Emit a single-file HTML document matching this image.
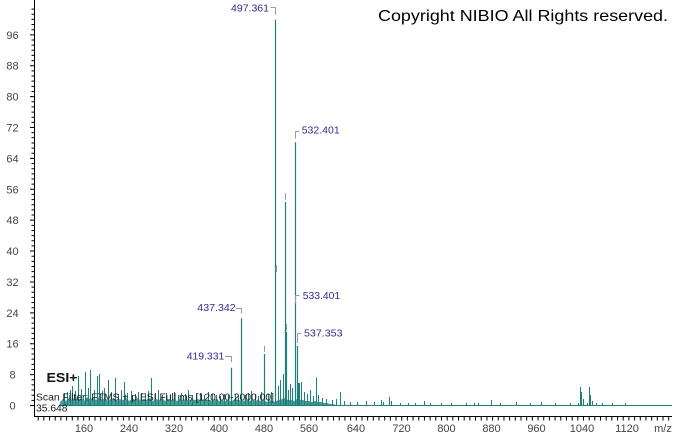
<!DOCTYPE html>
<html><head><meta charset="utf-8"><style>
html,body{margin:0;padding:0;background:#fff;}
svg{display:block;}
text{font-family:"Liberation Sans",Arial,sans-serif;}
</style></head><body>
<svg width="674" height="434" viewBox="0 0 674 434" xmlns="http://www.w3.org/2000/svg">
<rect width="674" height="434" fill="#fff"/>
<!-- axes -->
<line x1="34.5" y1="0" x2="34.5" y2="417" stroke="#000" stroke-width="1"/>
<line x1="34" y1="416.5" x2="672" y2="416.5" stroke="#000" stroke-width="1"/>
<!-- y minor ticks -->
<line x1="33" y1="406" x2="33" y2="6" stroke="#000" stroke-width="3" stroke-dasharray="1 4.148"/>
<!-- y major ticks -->
<line x1="31" y1="406" x2="31" y2="20" stroke="#000" stroke-width="2" stroke-dasharray="1 29.888"/>
<!-- x ticks -->
<line x1="37.7" y1="418.5" x2="672" y2="418.5" stroke="#000" stroke-width="4" stroke-dasharray="1 4.68"/>
<!-- y labels -->
<g font-size="11" fill="#444" text-anchor="middle">
<text x="12.5" y="409.5">0</text>
<text x="12.5" y="378.6">8</text>
<text x="12.5" y="347.7">16</text>
<text x="12.5" y="316.8">24</text>
<text x="12.5" y="285.9">32</text>
<text x="12.5" y="255.1">40</text>
<text x="12.5" y="224.2">48</text>
<text x="12.5" y="193.3">56</text>
<text x="12.5" y="162.4">64</text>
<text x="12.5" y="131.5">72</text>
<text x="12.5" y="100.6">80</text>
<text x="12.5" y="69.7">88</text>
<text x="12.5" y="38.8">96</text>
</g>
<!-- x labels -->
<g font-size="11" fill="#444" text-anchor="middle">
<text x="84" y="432">160</text>
<text x="129" y="432">240</text>
<text x="174" y="432">320</text>
<text x="219" y="432">400</text>
<text x="264" y="432">480</text>
<text x="309" y="432">560</text>
<text x="356" y="432">640</text>
<text x="401.5" y="432">720</text>
<text x="446.5" y="432">800</text>
<text x="491.5" y="432">880</text>
<text x="536.5" y="432">960</text>
<text x="582" y="432">1040</text>
<text x="627" y="432">1120</text>
<text x="663" y="432">m/z</text>
</g>
<!-- baseline -->
<line x1="60" y1="405.5" x2="672" y2="405.5" stroke="#1a817b" stroke-width="1"/>
<!-- noise band -->
<polygon fill="#1a817b" fill-opacity="0.8" points="60,405.5 60,402 63,399 66,401 69,398 72,400 75,397 78,400 81,398 84,401 87,397 90,399 93,398 96,400 99,397 102,400 105,398 108,401 111,399 114,398 117,401 120,399 123,400 126,398 129,401 132,399 135,400 138,398 141,401 144,399 147,400 150,398 153,401 156,399 159,400 162,398 165,401 168,399 171,400 174,399 177,401 180,399 183,400 186,399 189,401 192,399 195,400 198,399 201,401 204,399 207,401 210,400 213,401 216,399 219,401 222,400 225,401 228,400 231,401 234,400 237,401 240,400 243,401 246,400 249,401 252,400 255,401 258,400 261,401 264,400 267,402 270,400 273,402 276,401 279,400 282,399 285,398 288,400 291,400 294,401 297,399 300,400 303,400 306,401 309,401 312,402 315,401 318,402 321,402 324,403 327,403 330,404 335,404.5 335,405.5"/>
<!-- spikes -->
<path stroke="#1a817b" stroke-width="1" fill="none" d="
M64.5 405V393 M67.5 405V392 M70.5 405V390 M72.5 405V386 M75.5 405V391 M78.5 405V376 M81.5 405V389 M85.5 405V372 M88.5 405V388 M90.5 405V370 M94.5 405V390 M97.5 405V376 M99.5 405V374 M102.5 405V391 M104.5 405V388 M108.5 405V380 M111.5 405V392 M115.5 405V378 M118.5 405V394 M121.5 405V390 M124.5 405V382 M127.5 405V393 M131.5 405V391 M135.5 405V394 M138.5 405V392 M141.5 405V393 M145.5 405V394 M148.5 405V391 M151.5 405V378 M155.5 405V393 M158.5 405V390 M162.5 405V395 M166.5 405V393 M170.5 405V394 M174.5 405V392 M178.5 405V395 M181.5 405V393 M185.5 405V394 M188.5 405V390 M192.5 405V395 M196.5 405V394 M200.5 405V393 M204.5 405V395 M208.5 405V392 M212.5 405V394 M216.5 405V395 M220.5 405V396 M224.5 405V394 M228.5 405V395 M235.5 405V394 M238.5 405V396 M245.5 405V395 M248.5 405V393 M251.5 405V391 M255.5 405V394 M258.5 405V396 M261.5 405V392 M268.5 405V394 M271.5 405V392 M278.5 405V386 M280.5 405V380 M283.5 405V374 M288.5 405V390 M290.5 405V384 M292.5 405V388 M299.5 405V383 M301.5 405V382 M304.5 405V392 M307.5 405V394 M310.5 405V390 M313.5 405V396 M316.5 405V377.5 M318.5 405V395 M322.5 405V398 M326.5 405V399 M332.5 405V400 M336.5 405V399 M340.5 405V392 M344.5 405V401 M350.5 405V402 M357.5 405V402 M366.5 405V401 M374.5 405V402 M381.5 405V400 M383.5 405V402 M389.5 405V396.7 M391.5 405V401 M400.5 405V403 M408.5 405V403 M415.5 405V403 M424.5 405V401 M430.5 405V403 M441.5 405V403 M451.5 405V403 M466.5 405V402.7 M474.5 405V402.7 M478.5 405V403 M491.5 405V400 M500.5 405V403 M516.5 405V402 M530.5 405V403 M541.5 405V402 M555.5 405V403 M570.5 405V403 M578.5 405V403 M580.5 405V387 M581.5 405V392 M583.5 405V399 M587.5 405V403 M589.5 405V387 M590.5 405V395 M592.5 405V401 M596.5 405V403 M602.5 405V403 M612.5 405V403 M625.5 405V403
"/>
<!-- major peaks -->
<path stroke="#1a817b" stroke-width="1.2" fill="none" d="
M231.5 405V367.7 M241.5 405V318.3 M264.5 405V354 M275.5 405V19.5 M285.5 405V202 M286.5 405V332 M295.5 405V142.3 M297.5 405V346 M298.5 405V383
"/>
<!-- gray markers / brackets -->
<path stroke="#9a9aae" stroke-width="1" fill="none" d="
M270.5 7.5H275.5V15 M295.5 138.5V131.5H299.5 M295.5 303.5V295.5H299.5 M297.5 343V333.5H301 M236 308.5H241.5V313.5 M225 356.5H231.5V362 M264.5 346V352 M285.5 193V200 M286.5 324V331 M276.5 265V272
"/>
<!-- peak labels -->
<g font-size="10.5" fill="#2c2ca8">
<text x="231" y="11.5" textLength="38" lengthAdjust="spacingAndGlyphs">497.361</text>
<text x="301.7" y="133.5" textLength="38" lengthAdjust="spacingAndGlyphs">532.401</text>
<text x="302.7" y="299.2" textLength="37.5" lengthAdjust="spacingAndGlyphs">533.401</text>
<text x="304" y="336.5" textLength="38.5" lengthAdjust="spacingAndGlyphs">537.353</text>
<text x="197.3" y="311" textLength="38.4" lengthAdjust="spacingAndGlyphs">437.342</text>
<text x="186.7" y="359.6" textLength="37.6" lengthAdjust="spacingAndGlyphs">419.331</text>
</g>
<!-- annotations -->
<text x="46.5" y="382" font-size="12.5" font-weight="bold" fill="#111" textLength="31" lengthAdjust="spacingAndGlyphs">ESI+</text>
<text x="36" y="400.5" font-size="10" fill="#1a1a1a" textLength="238" lengthAdjust="spacingAndGlyphs">Scan Filter: FTMS + p ESI Full ms [120.00-2000.00]</text>
<text x="36" y="411.5" font-size="10" fill="#1a1a1a" textLength="31.5" lengthAdjust="spacingAndGlyphs">35.648</text>
<text x="378" y="21" font-size="16" fill="#000" textLength="290" lengthAdjust="spacingAndGlyphs">Copyright NIBIO All Rights reserved.</text>
</svg>
</body></html>
